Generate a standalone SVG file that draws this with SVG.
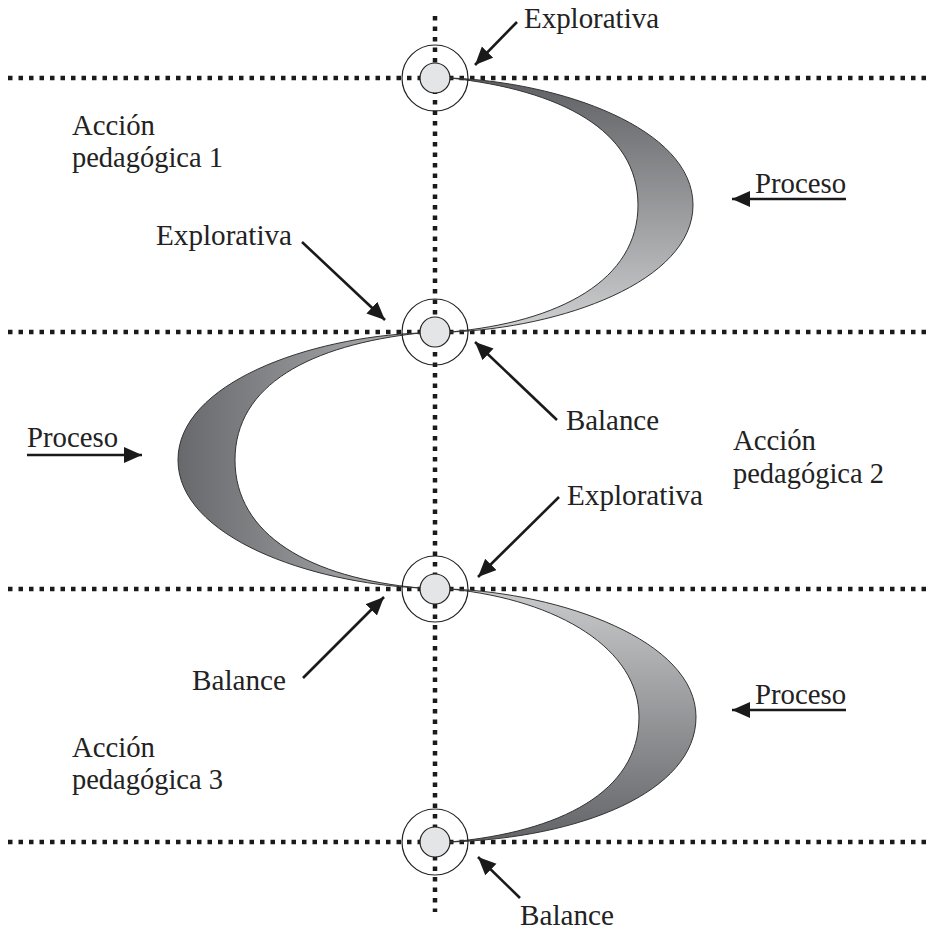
<svg xmlns="http://www.w3.org/2000/svg" width="931" height="931" viewBox="0 0 931 931">
<style>
.dot{stroke:#1a1a1a;stroke-width:4.5;stroke-dasharray:4.5 6;fill:none}
.outer{fill:none;stroke:#222;stroke-width:1.2}
.inner{fill:#e4e5e7;stroke:#222;stroke-width:1.2}
.cres{stroke:#333;stroke-width:1}
.arr{stroke:#1a1a1a;stroke-width:2.6;fill:none;marker-end:url(#ah)}
.t{font-family:"Liberation Serif","Times New Roman",serif;font-size:30px;fill:#222}
</style>
<defs>
<marker id="ah" markerUnits="userSpaceOnUse" markerWidth="20" markerHeight="18" refX="18" refY="8" orient="auto">
<path d="M0,0 L18,8 L0,16 Z" fill="#1a1a1a"/>
</marker>
<linearGradient id="g1" x1="0" y1="0" x2="0" y2="1">
<stop offset="0" stop-color="#5f6063"/><stop offset="1" stop-color="#cfd0d2"/>
</linearGradient>
<linearGradient id="g2" x1="0" y1="0" x2="1" y2="0">
<stop offset="0" stop-color="#68696c"/><stop offset="1" stop-color="#b2b3b5"/>
</linearGradient>
<linearGradient id="g3" x1="0" y1="0" x2="0" y2="1">
<stop offset="0" stop-color="#c9cacc"/><stop offset="1" stop-color="#636467"/>
</linearGradient>
</defs>
<g id="grid">
<line class="dot" x1="8" y1="78" x2="931" y2="78"/>
<line class="dot" x1="8" y1="332" x2="931" y2="332"/>
<line class="dot" x1="8" y1="589" x2="931" y2="589"/>
<line class="dot" x1="8" y1="842" x2="931" y2="842"/>
<line class="dot" x1="435" y1="16" x2="435" y2="912"/>
</g>
<g id="crescent1"><path class="cres" fill="url(#g1)" d="M450,78 C560,82 693,128 693,205 C693,282 560,328 450,332 C560,322 638,280 638,205 C638,130 560,90 450,78 Z"/></g>
<g id="crescent2"><path class="cres" fill="url(#g2)" d="M420,333 C310,337 178,383 178,460 C178,537 310,583 420,588 C310,578 235,535 235,460 C235,385 310,345 420,333 Z"/></g>
<g id="crescent3"><path class="cres" fill="url(#g3)" d="M450,589 C560,593 696,640 696,717 C696,792 580,838 450,842 C560,832 639,792 639,717 C639,650 560,600 450,589 Z"/></g>
<g id="node1"><circle class="outer" cx="435" cy="78" r="33"/><circle class="inner" cx="435" cy="78" r="15"/></g>
<g id="node2"><circle class="outer" cx="435" cy="332" r="33"/><circle class="inner" cx="435" cy="332" r="15"/></g>
<g id="node3"><circle class="outer" cx="435" cy="589" r="33"/><circle class="inner" cx="435" cy="589" r="15"/></g>
<g id="node4"><circle class="outer" cx="435" cy="842" r="33"/><circle class="inner" cx="435" cy="842" r="15"/></g>
<g id="connectors">
<line class="arr" x1="517" y1="22" x2="475" y2="65"/>
<line class="arr" x1="302" y1="242" x2="385" y2="320"/>
<line class="arr" x1="557" y1="420" x2="475" y2="342"/>
<line class="arr" x1="559" y1="497" x2="478" y2="577"/>
<line class="arr" x1="303" y1="678" x2="384" y2="597"/>
<line class="arr" x1="520" y1="898" x2="478" y2="857"/>
<line class="arr" x1="846" y1="199" x2="732" y2="199"/>
<line class="arr" x1="27" y1="455" x2="142" y2="455"/>
<line class="arr" x1="846" y1="710" x2="732" y2="710"/>
</g>
<g id="labels">
<text class="t" x="524" y="28" textLength="135" lengthAdjust="spacingAndGlyphs">Explorativa</text>
<text class="t" x="156" y="245" textLength="136" lengthAdjust="spacingAndGlyphs">Explorativa</text>
<text class="t" x="567" y="505" textLength="136" lengthAdjust="spacingAndGlyphs">Explorativa</text>
<text class="t" x="566" y="430" textLength="93" lengthAdjust="spacingAndGlyphs">Balance</text>
<text class="t" x="192" y="690" textLength="94" lengthAdjust="spacingAndGlyphs">Balance</text>
<text class="t" x="520" y="925" textLength="94" lengthAdjust="spacingAndGlyphs">Balance</text>
<text class="t" x="755" y="193" textLength="91" lengthAdjust="spacingAndGlyphs">Proceso</text>
<text class="t" x="27" y="447" textLength="91" lengthAdjust="spacingAndGlyphs">Proceso</text>
<text class="t" x="755" y="704" textLength="91" lengthAdjust="spacingAndGlyphs">Proceso</text>
<text class="t" x="72" y="135" textLength="83" lengthAdjust="spacingAndGlyphs">Acción</text>
<text class="t" x="72" y="167" textLength="151" lengthAdjust="spacingAndGlyphs">pedagógica 1</text>
<text class="t" x="733" y="450" textLength="83" lengthAdjust="spacingAndGlyphs">Acción</text>
<text class="t" x="733" y="483" textLength="151" lengthAdjust="spacingAndGlyphs">pedagógica 2</text>
<text class="t" x="72" y="757" textLength="83" lengthAdjust="spacingAndGlyphs">Acción</text>
<text class="t" x="72" y="789" textLength="151" lengthAdjust="spacingAndGlyphs">pedagógica 3</text>
</g>
</svg>
